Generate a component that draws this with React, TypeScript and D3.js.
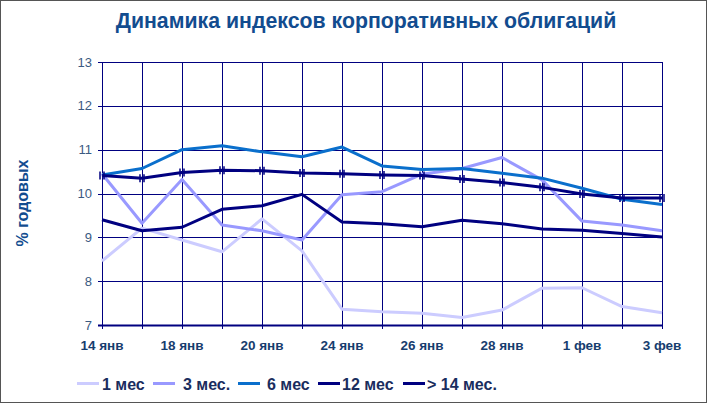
import { useEffect, useRef } from "react";
import * as d3 from "d3";

// trading days, every second one is labelled on the axis
const dates = [
  "14 янв", "17 янв", "18 янв", "19 янв", "20 янв", "21 янв", "24 янв", "25 янв",
  "26 янв", "27 янв", "28 янв", "31 янв", "1 фев", "2 фев", "3 фев",
];
const yTicks = [7, 8, 9, 10, 11, 12, 13];

const m1 = [8.46, 9.21, 8.94, 8.67, 9.42, 8.69, 7.36, 7.3, 7.27, 7.17, 7.34, 7.84, 7.85, 7.42, 7.28];
const m3 = [10.45, 9.32, 10.32, 9.28, 9.15, 8.94, 9.97, 10.04, 10.44, 10.57, 10.82, 10.31, 9.37, 9.28, 9.15];
const m6 = [10.42, 10.57, 11.0, 11.09, 10.95, 10.84, 11.06, 10.63, 10.55, 10.57, 10.46, 10.35, 10.12, 9.87, 9.75];
const m12 = [9.4, 9.15, 9.23, 9.64, 9.72, 9.98, 9.35, 9.31, 9.24, 9.39, 9.31, 9.19, 9.16, 9.09, 9.01];
const m14 = [10.41, 10.35, 10.48, 10.53, 10.52, 10.47, 10.45, 10.42, 10.41, 10.33, 10.25, 10.14, 9.99, 9.9, 9.9];

const seriesNames = ["1 мес", "3 мес.", "6 мес", "12 мес", "> 14 мес."];
const seriesColors = ["#ccccff", "#9999ff", "#0a6fcc", "#000080", "#000080"];

export default function App() {
  const svgRef = useRef<SVGSVGElement>(null);
  const width = 708;
  const height = 403;
  const plot = { left: 102, right: 662, top: 62, bottom: 325 };

  useEffect(() => {
    const svg = d3.select(svgRef.current);
    svg.selectAll("*").remove();

    const x = d3.scalePoint<string>().domain(dates).range([plot.left, plot.right]);
    const y = d3.scaleLinear().domain([7, 13]).range([plot.bottom, plot.top]);

    svg.append("rect")
      .attr("x", 0.5).attr("y", 0.5)
      .attr("width", width - 2).attr("height", height - 1)
      .attr("fill", "#fff").attr("stroke", "#555");

    // title
    svg.append("text")
      .attr("x", 366).attr("y", 28)
      .attr("text-anchor", "middle")
      .attr("font-family", "Liberation Sans, Arial, sans-serif")
      .attr("font-weight", "bold").attr("font-size", 21.3)
      .attr("fill", "#124c8f")
      .text("Динамика индексов корпоративных облигаций");

    // grid
    const grid = svg.append("g").attr("stroke", "#000080").attr("stroke-width", 1);
    grid.selectAll("line.h").data(yTicks).join("line")
      .attr("class", "h")
      .attr("x1", plot.left - 4).attr("x2", plot.right)
      .attr("y1", d => Math.round(y(d)) + 0.5).attr("y2", d => Math.round(y(d)) + 0.5);
    grid.selectAll("line.v").data(dates).join("line")
      .attr("class", "v")
      .attr("x1", d => Math.round(x(d)!) + 0.5).attr("x2", d => Math.round(x(d)!) + 0.5)
      .attr("y1", plot.top).attr("y2", plot.bottom + 4);
    grid.append("line")
      .attr("x1", plot.left - 4).attr("x2", plot.right)
      .attr("y1", plot.bottom + 0.5).attr("y2", plot.bottom + 0.5)
      .attr("stroke-width", 2);

    // y tick labels
    svg.append("g").selectAll("text").data(yTicks).join("text")
      .attr("x", 92).attr("y", d => y(d) + 4.5)
      .attr("text-anchor", "end")
      .attr("font-family", "Liberation Sans, Arial, sans-serif")
      .attr("font-size", 13).attr("fill", "#3b5a82")
      .text(d => d);

    // x tick labels
    svg.append("g").selectAll("text").data(dates.filter((_, i) => i % 2 === 0)).join("text")
      .attr("x", d => x(d)!).attr("y", 350)
      .attr("text-anchor", "middle")
      .attr("font-family", "Liberation Sans, Arial, sans-serif")
      .attr("font-weight", "bold").attr("font-size", 13.5).attr("fill", "#173d6e")
      .text(d => d);

    // axis title
    svg.append("text")
      .attr("transform", "translate(28,203) rotate(-90)")
      .attr("text-anchor", "middle")
      .attr("font-family", "Liberation Sans, Arial, sans-serif")
      .attr("font-weight", "bold").attr("font-size", 16).attr("fill", "#124c8f")
      .text("% годовых");

    const all = [m1, m3, m6, m12, m14];
    const line = d3.line<number>().x((_, i) => x(dates[i])!).y(d => y(d));
    all.forEach((s, k) => {
      svg.append("path")
        .attr("d", line(s))
        .attr("fill", "none")
        .attr("stroke", seriesColors[k])
        .attr("stroke-width", 3)
        .attr("stroke-linejoin", "round");
    });

    // markers on the > 14 series
    const mk = svg.append("g").attr("stroke", "#000080").attr("stroke-width", 1.5);
    m14.forEach((v, i) => {
      const cx = x(dates[i])!;
      const cy = y(v);
      mk.append("path").attr("d", `M${cx - 2},${cy - 4}V${cy + 4}M${cx + 2},${cy - 4}V${cy + 4}`);
    });

    // legend
    const legendX = [77, 153, 238, 318, 403];
    const textGap = [25, 30, 29, 24, 24];
    const lg = svg.append("g");
    seriesNames.forEach((name, k) => {
      lg.append("line")
        .attr("x1", legendX[k]).attr("x2", legendX[k] + 22)
        .attr("y1", 383.5).attr("y2", 383.5)
        .attr("stroke", seriesColors[k]).attr("stroke-width", 3);
      lg.append("text")
        .attr("x", legendX[k] + textGap[k]).attr("y", 389.5)
        .attr("font-family", "Liberation Sans, Arial, sans-serif")
        .attr("font-weight", "bold").attr("font-size", 16).attr("fill", "#1a2d5e")
        .text(name);
    });
  }, []);

  return (
    <svg
      ref={svgRef}
      width={width}
      height={height}
      style={{ position: "absolute", left: 0, top: 0 }}
    />
  );
}
